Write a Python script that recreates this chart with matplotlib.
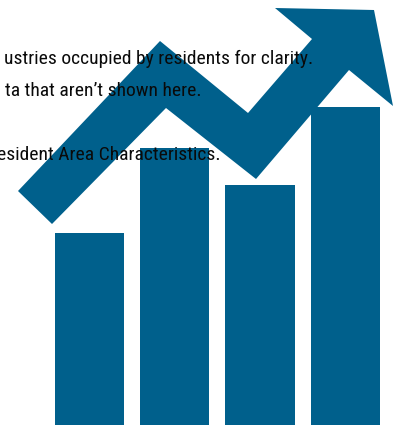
import matplotlib
matplotlib.use("Agg")
import matplotlib.pyplot as plt
from matplotlib.patches import Polygon

W, H = 411, 425
BLUE = "#00608c"

bar_lefts = [55, 140, 225, 311]
bar_widths = [69, 69, 70, 69]
bar_heights = [192, 277, 240, 318]

arrow_x = [18, 160, 248, 312, 275, 374, 393, 349, 256, 166, 52]
arrow_y = [191, 41, 113, 39, 8, 10, 106, 70, 179, 108, 224]

text_lines = ["ustries occupied by residents for clarity.",
              "ta that aren\u2019t shown here.",
              "esident Area Characteristics."]
text_right = [313, 202, 221]
text_base = [64, 96, 160]

fig = plt.figure(figsize=(W / 100, H / 100), dpi=100)
ax = fig.add_axes([0, 0, 1, 1])
ax.set_xlim(0, W)
ax.set_ylim(H, 0)
ax.axis("off")

ax.bar(bar_lefts, [-h for h in bar_heights], width=bar_widths, bottom=H,
       align="edge", color=BLUE, linewidth=0, zorder=2)
ax.add_patch(Polygon(list(zip(arrow_x, arrow_y)), closed=True, facecolor=BLUE,
                     edgecolor="none", zorder=3))
for s, x, y in zip(text_lines, text_right, text_base):
    ax.text(x, y, s, ha="right", va="baseline", color="#0a0a0a", fontsize=14,
            family=["Roboto Condensed", "Open Sans Condensed", "Lato", "DejaVu Sans"], zorder=4)

fig.savefig("out.png", dpi=100)
